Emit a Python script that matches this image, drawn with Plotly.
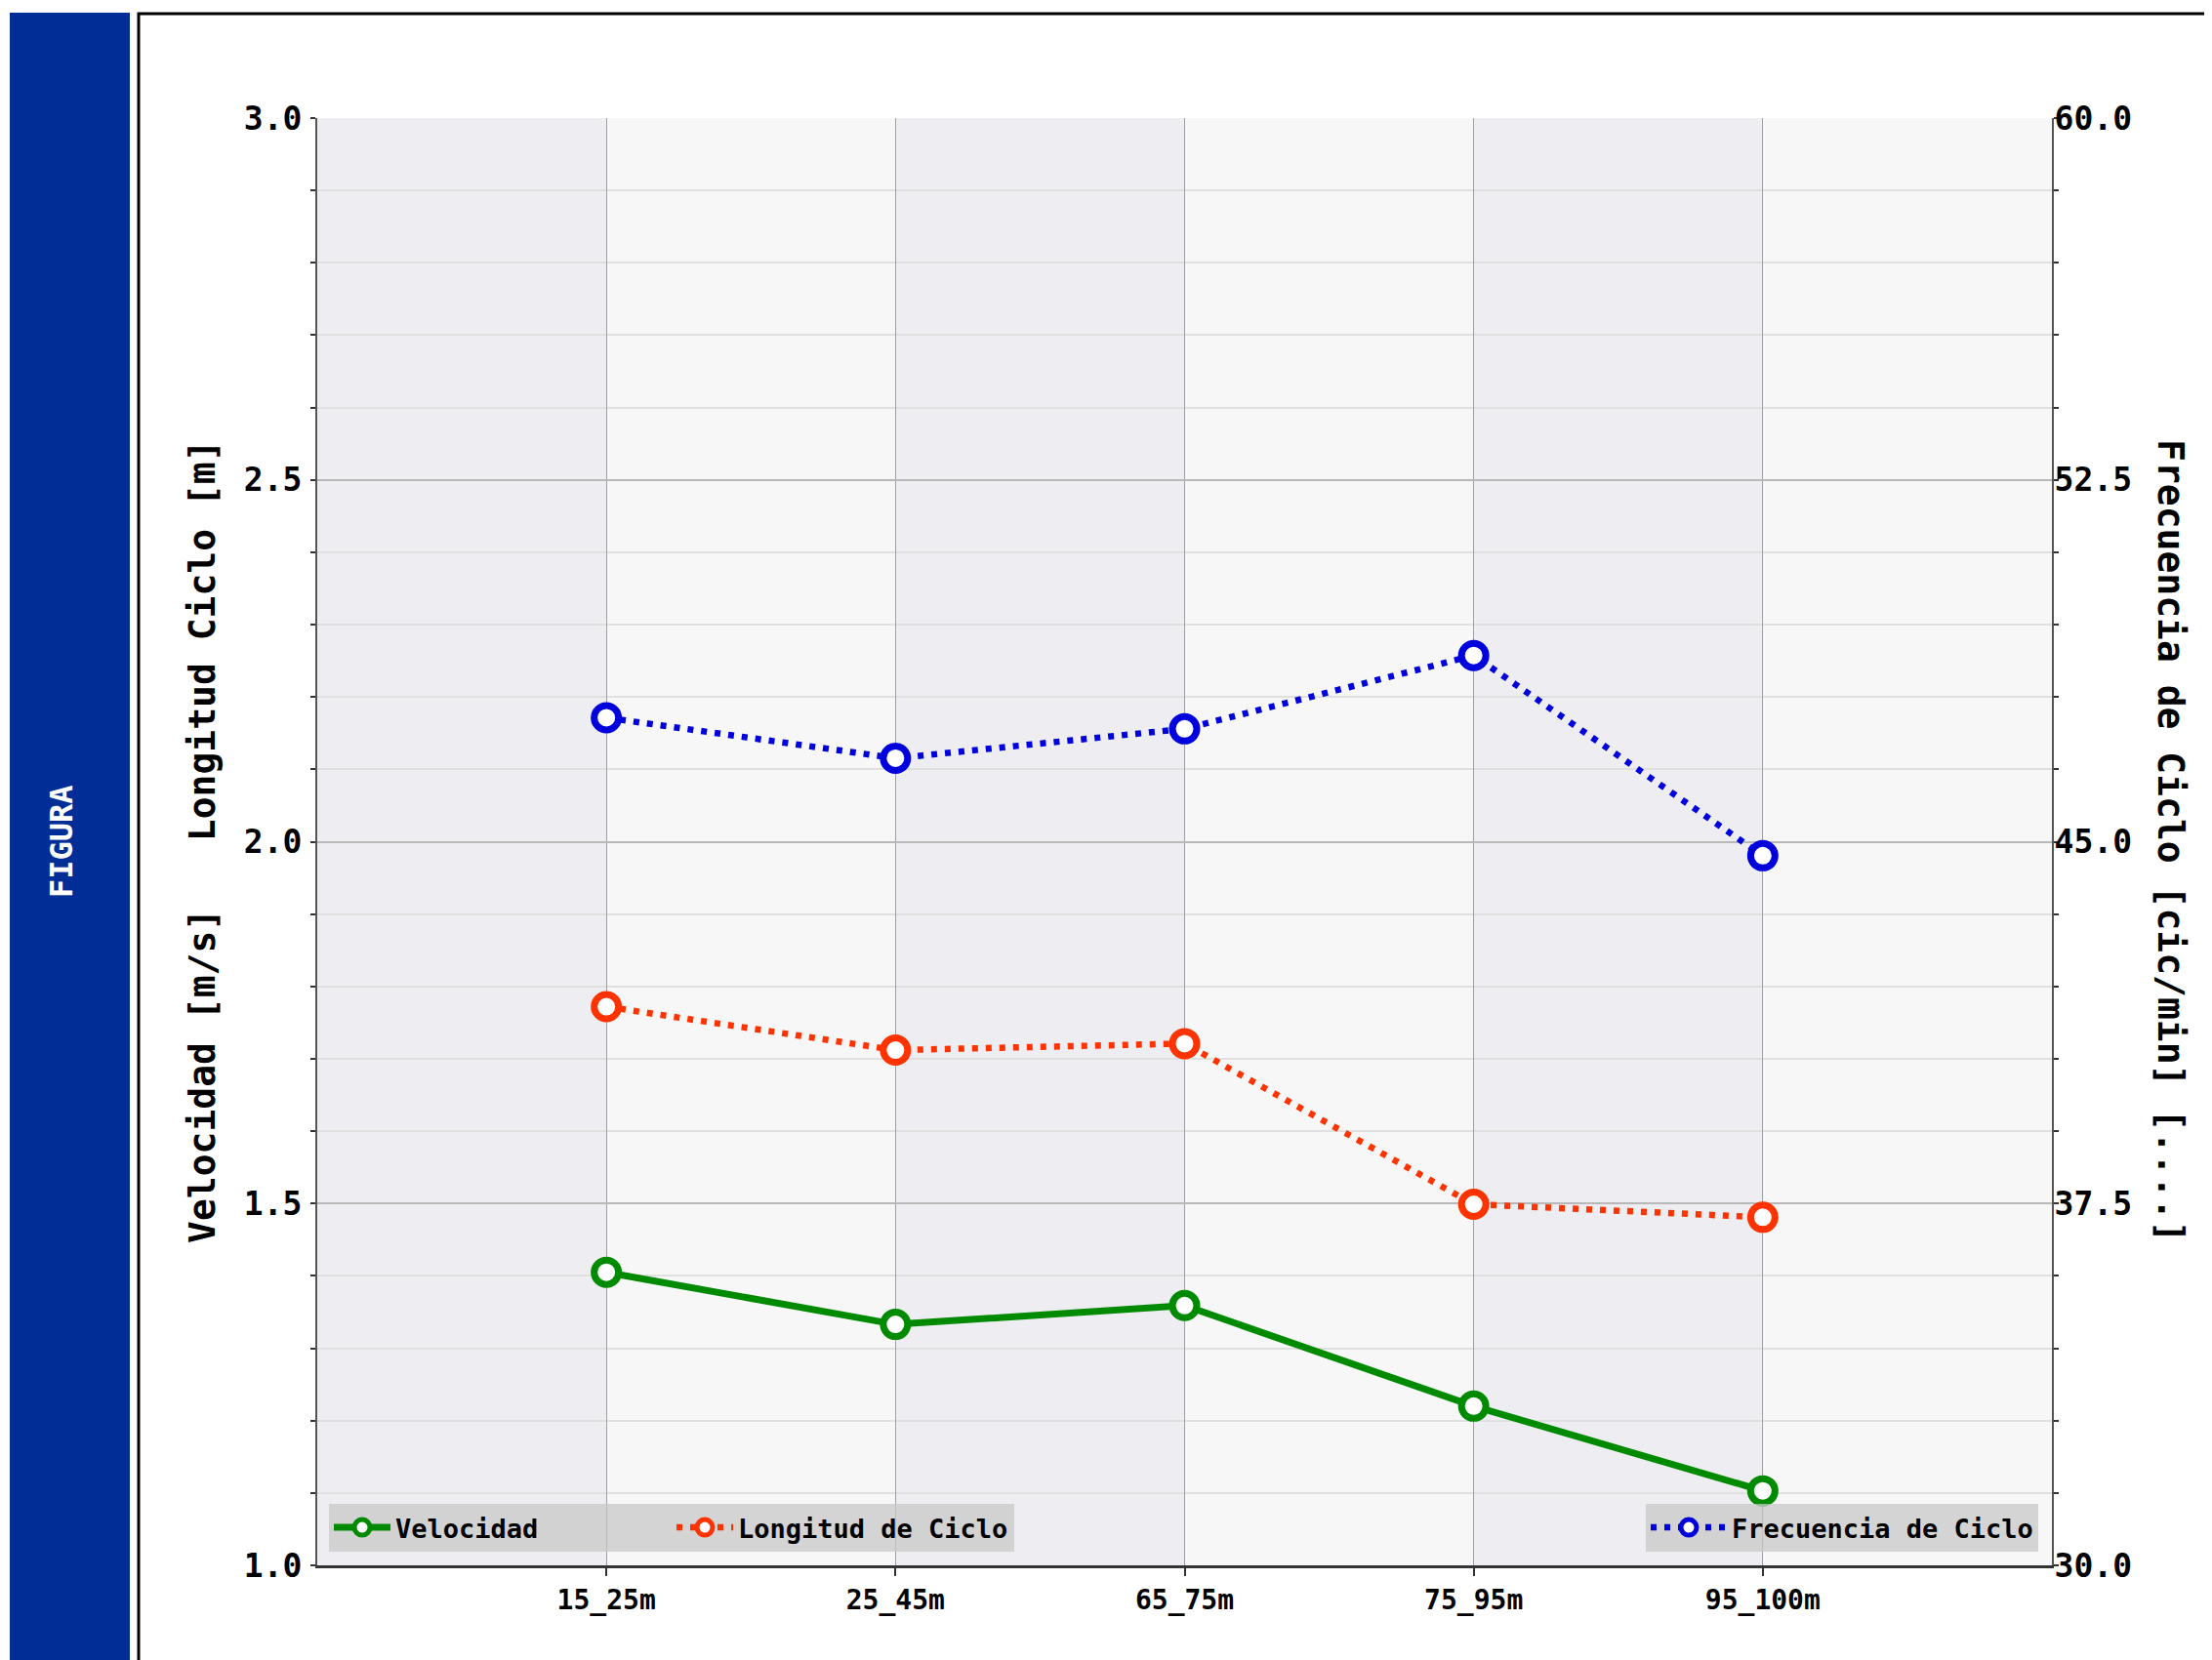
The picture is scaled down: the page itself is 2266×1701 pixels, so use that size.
import plotly.graph_objects as go

categories = ["15_25m", "25_45m", "65_75m", "75_95m", "95_100m"]
velocidad = [1.405, 1.333, 1.359, 1.220, 1.103]
longitud = [1.772, 1.712, 1.721, 1.499, 1.481]
frecuencia = [47.57, 46.73, 47.34, 48.86, 44.71]

left_ticks = [1.0, 1.5, 2.0, 2.5, 3.0]
right_ticks = [30.0, 37.5, 45.0, 52.5, 60.0]

OFF = 8  # default page body margin
W, H = 2266 - OFF, 1701 - OFF
ML, MT = 325 - OFF, 121 - OFF
MR = W - (2102 - OFF)
MB = H - (1604 - OFF)
PW, PH = W - ML - MR, H - MT - MB

def px_x(p):
    return (p - OFF - ML) / PW

def px_y(p):
    return (H - MB - (p - OFF)) / PH

FONT = "DejaVu Sans Mono"
GREEN = "#008A00"
ORANGE = "#FF3300"
BLUE = "#0000DD"
DOT = "6px,8px"

fig = go.Figure()

def mk(c):
    return dict(symbol="circle", size=25, color="white", line=dict(color=c, width=7))

fig.add_trace(go.Scatter(
    x=categories, y=velocidad, name="Velocidad", mode="lines+markers",
    line=dict(color=GREEN, width=7), marker=mk(GREEN), legend="legend",
))
fig.add_trace(go.Scatter(
    x=categories, y=longitud, name="Longitud de Ciclo", mode="lines+markers",
    line=dict(color=ORANGE, width=6.5, dash=DOT), marker=mk(ORANGE), legend="legend",
))
fig.add_trace(go.Scatter(
    x=categories, y=frecuencia, name="Frecuencia de Ciclo", mode="lines+markers",
    line=dict(color=BLUE, width=6.5, dash=DOT), marker=mk(BLUE),
    yaxis="y2", legend="legend2",
))

shapes = []
n = len(categories)
for i in range(-1, n):
    col = "#F7F7F7" if i % 2 == 0 else "#EEEEF2"
    shapes.append(dict(type="rect", xref="x", yref="paper", x0=i, x1=i + 1, y0=0, y1=1,
                       fillcolor=col, line=dict(width=0), layer="below"))

# blue side bar
shapes.append(dict(type="rect", xref="paper", yref="paper",
                   x0=px_x(10), x1=px_x(133), y0=px_y(1720), y1=px_y(13),
                   fillcolor="#002E96", line=dict(width=0), layer="below"))
# black frame
shapes.append(dict(type="rect", xref="paper", yref="paper",
                   x0=px_x(142), x1=px_x(2290), y0=px_y(1720), y1=px_y(14),
                   fillcolor="rgba(0,0,0,0)", line=dict(color="black", width=3), layer="below"))

annotations = [
    dict(text="FIGURA", xref="paper", yref="paper", x=px_x(63), y=px_y(862),
         xanchor="center", yanchor="middle",
         showarrow=False, textangle=-90, font=dict(family=FONT, size=32, color="white", weight="bold")),
    dict(text="Velocidad [m/s]\u00a0\u00a0\u00a0Longitud Ciclo [m]", xref="paper", yref="paper",
         x=px_x(207), y=px_y(862), xanchor="center", yanchor="middle", showarrow=False, textangle=-90,
         font=dict(family=FONT, size=38, color="black", weight="bold")),
    dict(text="Frecuencia de Ciclo [cic/min] [....]", xref="paper", yref="paper",
         x=px_x(2224), y=px_y(862), xanchor="center", yanchor="middle", showarrow=False, textangle=90,
         font=dict(family=FONT, size=38, color="black", weight="bold")),
]

LEGFONT = dict(family=FONT, size=27, color="black", weight="bold")

fig.update_layout(
    width=W, height=H,
    margin=dict(l=ML, r=MR, t=MT, b=MB, pad=0),
    paper_bgcolor="white", plot_bgcolor="#F7F7F7",
    font=dict(family=FONT, color="black"),
    shapes=shapes, annotations=annotations,
    xaxis=dict(
        type="category", range=[-1, n], showgrid=True, gridcolor="#A0A0A0", gridwidth=1,
        showline=True, linecolor="#333333", linewidth=3,
        ticks="outside", ticklen=8, tickcolor="#333333", tickwidth=2,
        tickfont=dict(family=FONT, size=28, color="black", weight="bold"),
        zeroline=False,
    ),
    yaxis=dict(
        range=[1.0, 3.0], tickvals=left_ticks, ticktext=[f"{v:.1f}" for v in left_ticks],
        showgrid=True, gridcolor="#B8B8B8", gridwidth=2,
        showline=True, linecolor="#555555", linewidth=2,
        ticks="", tickfont=dict(family=FONT, size=33, color="black", weight="bold"),
        ticklabelstandoff=7,
        minor=dict(dtick=0.1, showgrid=True, gridcolor="#E0E0E0", gridwidth=1.5,
                   ticks="outside", ticklen=5, tickcolor="#333333", tickwidth=2),
        zeroline=False,
    ),
    yaxis2=dict(
        range=[30.0, 60.0], tickvals=right_ticks, ticktext=[f"{v:.1f}" for v in right_ticks],
        overlaying="y", side="right", showgrid=False,
        showline=True, linecolor="#555555", linewidth=2,
        ticks="", tickfont=dict(family=FONT, size=33, color="black", weight="bold"),
        ticklabelstandoff=-6,
        minor=dict(dtick=1.5, showgrid=False, ticks="outside", ticklen=5,
                   tickcolor="#333333", tickwidth=2),
        zeroline=False,
    ),
    legend=dict(
        orientation="h", x=px_x(337), y=px_y(1590), xanchor="left", yanchor="bottom",
        bgcolor="rgba(200,200,200,0.75)", borderwidth=0, font=LEGFONT,
        entrywidth=278, entrywidthmode="pixels", itemwidth=58,
    ),
    legend2=dict(
        orientation="h", x=px_x(2088), y=px_y(1590), xanchor="right", yanchor="bottom",
        bgcolor="rgba(200,200,200,0.75)", borderwidth=0, font=LEGFONT,
        itemwidth=78,
    ),
)

fig.write_html("out.html")
